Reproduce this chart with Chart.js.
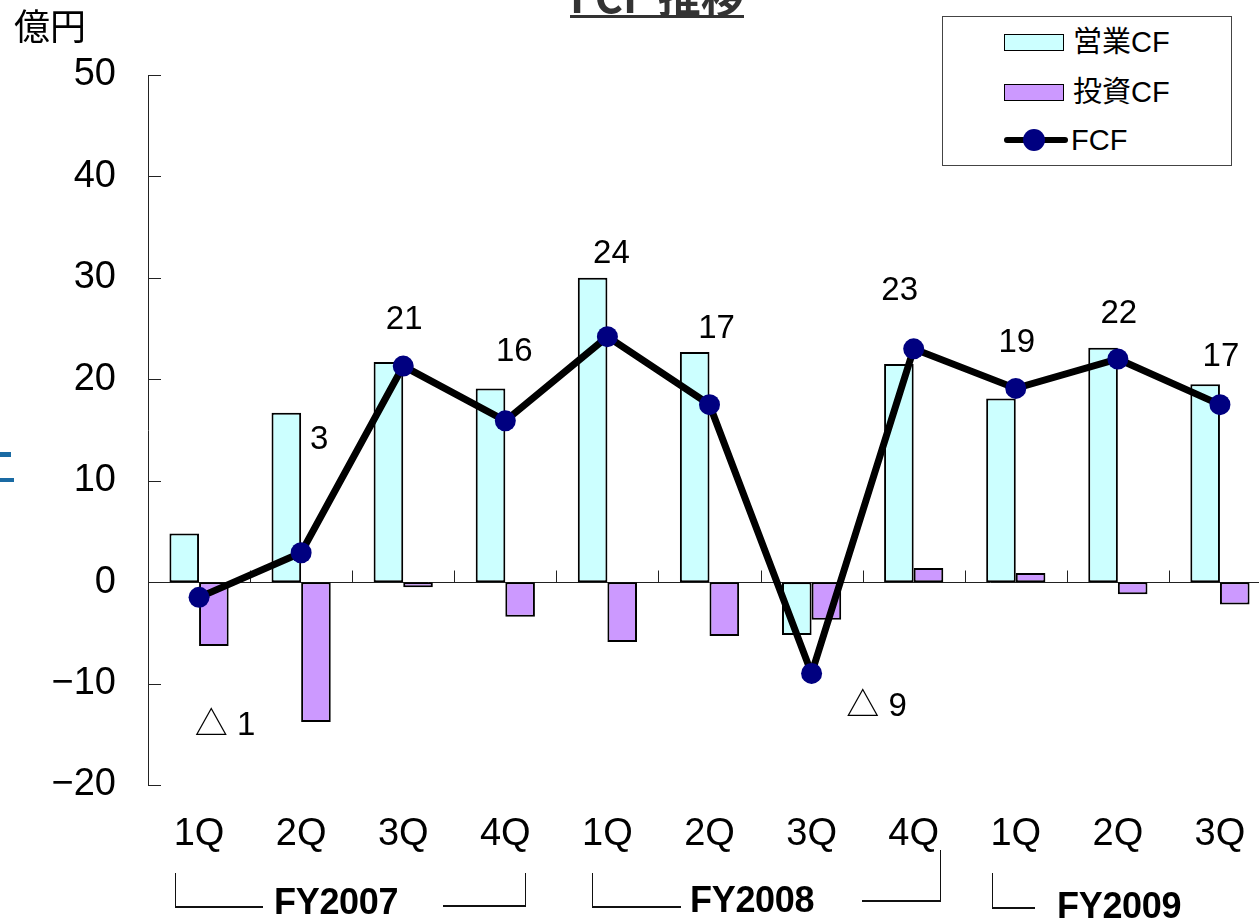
<!DOCTYPE html>
<html><head><meta charset="utf-8">
<script src="https://cdn.jsdelivr.net/npm/chart.js@4.4.0/dist/chart.umd.min.js"></script>
<style>
html,body{margin:0;padding:0;background:#fff;overflow:hidden;width:1259px;height:918px;}
#wrap{position:relative;width:1259px;height:918px;overflow:hidden;background:#fff;}
canvas{position:absolute;left:0;top:0;}
.abs{position:absolute;}
#title{left:537px;width:240px;top:-27px;height:42px;text-align:center;font:700 43px 'Noto Sans CJK JP',sans-serif;line-height:42px;color:#333;}
#title span{border-bottom:3px solid #333;display:inline-block;line-height:42px;}
#unit{left:14px;top:4px;font:400 36px 'Noto Sans CJK JP',sans-serif;line-height:40px;color:#000;}
.blue{background:#1a6aa3;left:0;}
#legend{left:942px;top:16px;width:288px;height:148px;border:1px solid #444;background:#fff;}
.lg-text{position:absolute;left:130px;font:400 29px 'Liberation Sans','Noto Sans CJK JP',sans-serif;line-height:30px;color:#000;}
.fy{position:absolute;font:700 36px 'Liberation Sans',Arial,sans-serif;color:#000;line-height:36px;letter-spacing:-0.3px;}
.br{position:absolute;border-color:#111;border-style:solid;border-width:0;}
</style></head><body>
<div id="wrap">
<canvas id="c" width="1290" height="918"></canvas>
<div id="title" class="abs"><span>FCF 推移</span></div>
<div id="unit" class="abs">億円</div>
<div class="abs blue" style="top:452px;width:11px;height:5px;"></div>
<div class="abs blue" style="top:478px;width:14px;height:4px;"></div>
<div id="legend" class="abs"></div>
<div id="fyarea"></div>
</div>
<script>
// ---- data ----
const categories = ['1Q','2Q','3Q','4Q','1Q','2Q','3Q','4Q','1Q','2Q','3Q'];
const operatingCF = [4.8,16.7,21.7,19.1,30.0,22.7,-5.2,21.5,18.1,23.1,19.5];
const investingCF = [-6.3,-13.8,-0.5,-3.4,-5.9,-5.3,-3.7,1.4,0.9,-1.2,-2.2];
const fcf = [-1.5,2.9,21.3,15.9,24.2,17.5,-9.0,23.0,19.1,22.0,17.5];
const fcfLabels = ['△ 1','3','21','16','24','17','△ 9','23','19','22','17'];
const yTickValues = [-20,-10,0,10,20,30,40,50];
const fiscalYears = ['FY2007','FY2008','FY2009'];
const seriesNames = ['営業CF','投資CF','FCF'];

// ---- styles ----
const colOperating = '#CCFFFF';
const colInvesting = '#CC99FF';
const colLine = '#000000';
const colPoint = '#000080';
const labelOffsets = [[26,129],[18,-113],[1,-46],[9,-69],[4,-83],[7,-76],[65,33],[-14,-58],[1,-46],[1,-45],[1,-48]];

const axisDeco = {
  id:'axisDeco',
  beforeDatasetsDraw(chart){
    const {ctx, chartArea:a, scales:{x,y}} = chart;
    ctx.save();
    ctx.strokeStyle='#222'; ctx.lineWidth=1;
    const y0 = Math.round(y.getPixelForValue(0))+0.5;
    ctx.beginPath();
    ctx.moveTo(a.left,y0); ctx.lineTo(a.right,y0);
    for(let i=1;i<categories.length;i++){
      const xb = Math.round((x.getPixelForValue(i-1)+x.getPixelForValue(i))/2)+0.5;
      ctx.moveTo(xb,y0); ctx.lineTo(xb,y0-12);
    }
    y.ticks.forEach(t=>{
      const py = Math.round(y.getPixelForValue(t.value))+0.5;
      ctx.moveTo(a.left,py); ctx.lineTo(a.left+13,py);
    });
    ctx.stroke();
    ctx.restore();
  },
  afterDatasetsDraw(chart){
    const {ctx} = chart;
    const meta = chart.getDatasetMeta(2);
    ctx.save();
    ctx.font = "33px 'Liberation Sans','Noto Sans CJK JP',sans-serif";
    ctx.fillStyle = '#000';
    ctx.textAlign='center'; ctx.textBaseline='middle';
    meta.data.forEach((pt,i)=>{
      ctx.fillText(fcfLabels[i], pt.x+labelOffsets[i][0], pt.y+labelOffsets[i][1]);
    });
    ctx.restore();
  }
};

const chart = new Chart(document.getElementById('c'), {
  data:{
    labels: categories,
    datasets:[
      {type:'bar', label:seriesNames[0], data:operatingCF, backgroundColor:colOperating, borderColor:'#000', borderWidth:2, borderSkipped:false, categoryPercentage:0.58, barPercentage:1, order:2},
      {type:'bar', label:seriesNames[1], data:investingCF, backgroundColor:colInvesting, borderColor:'#000', borderWidth:2, borderSkipped:false, categoryPercentage:0.58, barPercentage:1, order:2},
      {type:'line', label:seriesNames[2], data:fcf, borderColor:colLine, borderWidth:7, pointRadius:10.5, pointBackgroundColor:colPoint, pointBorderColor:colPoint, pointBorderWidth:0, tension:0, order:0}
    ]
  },
  options:{
    responsive:false, animation:false, devicePixelRatio:1,
    layout:{padding:{top:75,right:19,left:0,bottom:0}},
    plugins:{legend:{display:false}, tooltip:{enabled:false}},
    scales:{
      x:{
        grid:{display:false}, border:{display:false},
        ticks:{font:{family:"'Liberation Sans',Arial,sans-serif", size:38}, color:'#000', padding:19, maxRotation:0},
        afterFit(s){ s.height = 133; }
      },
      y:{
        min:-20, max:50,
        afterBuildTicks(s){ s.ticks = yTickValues.map(v=>({value:v})); },
        grid:{display:false, drawTicks:false}, border:{display:true, color:'#222', width:1},
        ticks:{font:{family:"'Liberation Sans',Arial,sans-serif", size:38}, color:'#000', padding:32,
          callback:(v)=> v<0 ? '\u2212'+Math.abs(v) : String(v)},
        afterFit(s){ s.width = 148; }
      }
    }
  },
  plugins:[axisDeco]
});

// legend (HTML)
const lg = document.getElementById('legend');
const swatches = [colOperating, colInvesting];
const rowsY = [25, 75, 123];
seriesNames.forEach((name,i)=>{
  if(i<2){
    const sw = document.createElement('div');
    sw.style.cssText = `position:absolute;left:61px;top:${rowsY[i]-8}px;width:58px;height:15px;background:${swatches[i]};border:1.5px solid #000;`;
    lg.appendChild(sw);
  } else {
    const ln = document.createElement('div');
    ln.style.cssText = `position:absolute;left:61px;top:${rowsY[i]-3}px;width:64px;height:6px;background:${colLine};border-radius:3px;`;
    lg.appendChild(ln);
    const dot = document.createElement('div');
    dot.style.cssText = `position:absolute;left:80px;top:${rowsY[i]-11}px;width:22px;height:22px;border-radius:50%;background:${colPoint};`;
    lg.appendChild(dot);
  }
  const t = document.createElement('div');
  t.className='lg-text';
  t.style.top = (rowsY[i]-15)+'px';
  if(i===2) t.style.left='128px';
  t.textContent = name;
  lg.appendChild(t);
});

// fiscal year brackets (HTML)
const fyArea = document.getElementById('fyarea');
const fyLayout = [
  {text:fiscalYears[0], tx:274, ty:884, l:[175,873,87,33], r:[443,873,82,32]},
  {text:fiscalYears[1], tx:690, ty:882, l:[592,873,88,33], r:[862,850,78,50]},
  {text:fiscalYears[2], tx:1057, ty:888, l:[992,873,42,34], r:null}
];
fyLayout.forEach(f=>{
  const t = document.createElement('div');
  t.className='fy'; t.style.left=f.tx+'px'; t.style.top=f.ty+'px'; t.textContent=f.text;
  fyArea.appendChild(t);
  const l = document.createElement('div');
  l.className='br'; l.style.cssText += `left:${f.l[0]}px;top:${f.l[1]}px;width:${f.l[2]}px;height:${f.l[3]}px;border-left-width:1.5px;border-bottom-width:2px;`;
  fyArea.appendChild(l);
  if(f.r){
    const r = document.createElement('div');
    r.className='br'; r.style.cssText += `left:${f.r[0]}px;top:${f.r[1]}px;width:${f.r[2]}px;height:${f.r[3]}px;border-right-width:1.5px;border-bottom-width:2px;`;
    fyArea.appendChild(r);
  }
});
</script>
</body></html>
